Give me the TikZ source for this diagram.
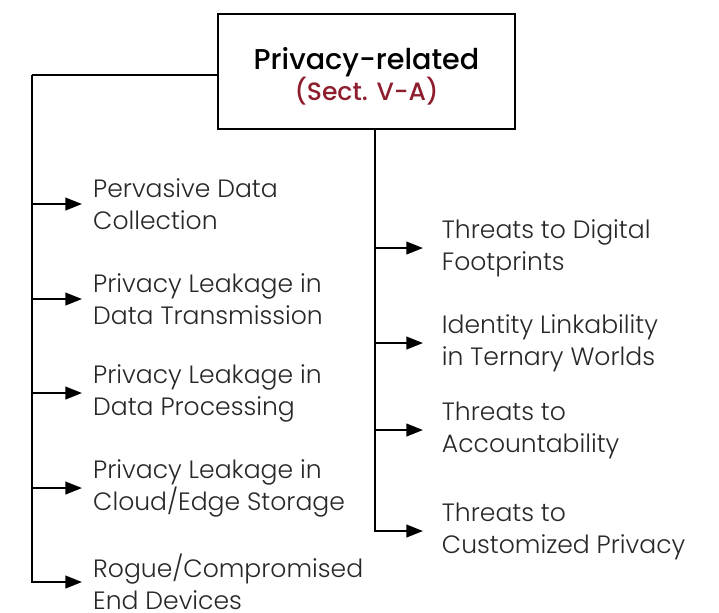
\documentclass[tikz,border=0pt]{standalone}
\usepackage{fontspec}
\setmainfont{Poppins}[UprightFont=* Light, BoldFont=* Medium]
\usetikzlibrary{arrows.meta}
\definecolor{sectred}{RGB}{142,30,46}
\definecolor{bodytext}{RGB}{40,40,40}
\begin{document}
\begin{tikzpicture}[x=0.75pt,y=-0.75pt,
  rail/.style={line width=1.5pt,line cap=butt},
  branch/.style={rail,-{Triangle[length=12.5pt,width=9.5pt]}},
  leaf/.style={anchor=west,align=left,inner xsep=8.2pt,inner ysep=0pt,
    font=\fontsize{18.8}{24}\selectfont,text=bodytext},
  rleaf/.style={leaf,inner xsep=14pt},
  rootbox/.style={draw,line width=1.5pt,minimum width=222.75pt,minimum height=86.25pt,align=center}]
\useasboundingbox (0,0) rectangle (719,612);

% root category
\node[rootbox] (root) at (366.5,71.5)
  {{\bfseries\fontsize{21.5}{26}\selectfont\rule{0pt}{24pt}Privacy-related}\\[-1pt]
   {\bfseries\color{sectred}\fontsize{18.8}{20}\selectfont (Sect. V-A)}};

% left column
\node[leaf] (l1) at (82,204) {Pervasive Data\\Collection};
\node[leaf] (l2) at (82,299) {Privacy Leakage in\\Data Transmission};
\node[leaf] (l3) at (82,393) {Privacy Leakage in\\Data Processing};
\node[leaf] (l4) at (82,488) {Privacy Leakage in\\Cloud/Edge Storage};
\node[leaf] (l5) at (82,582) {Rogue/Compromised\\End Devices};

% right column
\node[rleaf] (r1) at (423,248) {Threats to Digital\\Footprints};
\node[rleaf] (r2) at (423,343) {Identity Linkability\\in Ternary Worlds};
\node[rleaf] (r3) at (423,430) {Threats to\\Accountability};
\node[rleaf] (r4) at (423,531) {Threats to\\Customized Privacy};

% rails
\coordinate (lrail) at (32,75);
\coordinate (rrail) at (375,129);
\draw[rail] (root.west |- lrail) -- (lrail);
\draw[branch] (lrail) |- (l5.west);
\foreach \n in {l1,l2,l3,l4}
  \draw[branch] (lrail |- \n.west) -- (\n.west);
\draw[branch] (rrail) |- (r4.west);
\foreach \n in {r1,r2,r3}
  \draw[branch] (rrail |- \n.west) -- (\n.west);
\end{tikzpicture}
\end{document}
